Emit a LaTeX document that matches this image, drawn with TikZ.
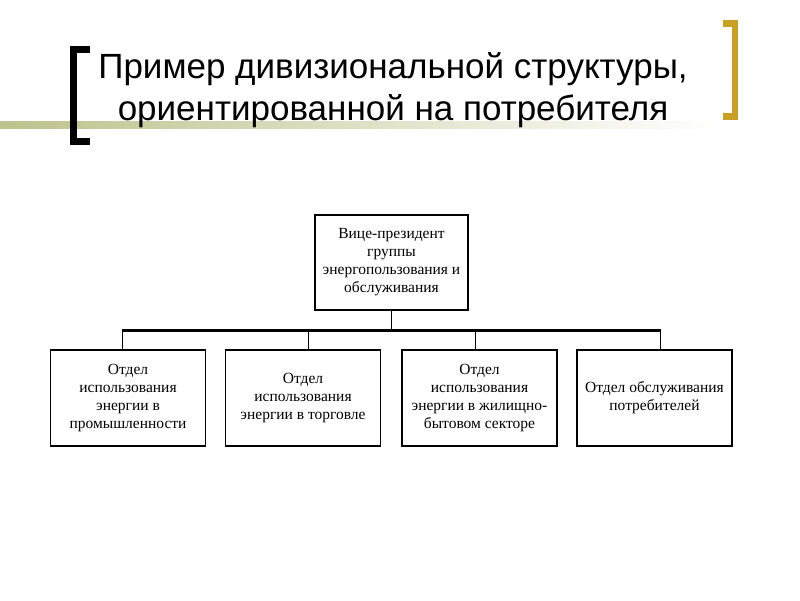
\documentclass[tikz,border=0pt]{standalone}
\usepackage{fontspec}
\setmainfont{Liberation Serif}
\newfontfamily\titlefont{Liberation Sans}
\usepackage{tikz}
\usetikzlibrary{calc, positioning}
\definecolor{olivebar}{RGB}{190, 194, 140}
\definecolor{goldbar}{RGB}{201, 160, 36}
\tikzset{
    boxnode/.style = {draw, rectangle, line width=1.1pt, minimum width=155pt, minimum height=96pt,
      inner sep=0pt, node distance=0em, align=center,
      font=\fontsize{15.5}{18}\selectfont},
    titlenode/.style = {draw=none, fill=none, rectangle, inner sep=0pt, anchor=base,
      font=\titlefont\fontsize{35}{42}\selectfont},
    connect/.style = {black, line width=1pt},
    barline/.style = {black, line width=3pt}
}

\begin{document}
\begin{tikzpicture}[x=1pt, y=-1pt]
    \useasboundingbox (0,0) rectangle (800,600);

    % title
    \shade [left color=olivebar, right color=white] (0,121) rectangle (720,128);
    \draw [line width=7pt, miter limit=10] (90,49) -- (73.5,49) -- (73.5,141.5) -- (90,141.5);
    \draw [goldbar, line width=6.5pt] (722.7,23.3) -- (735,23.3) -- (735,116.7) -- (722.7,116.7);
    \node [name=title1, titlenode] at (393,78) {Пример дивизиональной структуры,};
    \node [name=title2, titlenode] at (393,120) {ориентированной на потребителя};

    % boxes
    \node [name=vp, boxnode, minimum width=153pt, minimum height=95pt] at (391.5,262.5)
        {Вице-президент\\группы\\энергопользования и\\обслуживания};
    \node [name=ind, boxnode, below of = vp, xshift=-263.5pt, yshift=-135.5pt]
        {Отдел\\использования\\энергии в\\промышленности};
    \node [name=trade, boxnode, below of = vp, xshift=-88.5pt, yshift=-135.5pt]
        {Отдел\\использования\\энергии в торговле};
    \node [name=home, boxnode, below of = vp, xshift=88pt, yshift=-135.5pt]
        {Отдел\\использования\\энергии в жилищно-\\бытовом секторе};
    \node [name=service, boxnode, below of = vp, xshift=263pt, yshift=-135.5pt]
        {Отдел обслуживания\\потребителей};

    % connectors
    \coordinate (bar) at (391.5,330);
    \draw [connect] (vp.south) -- (vp.south |- bar);
    \draw [barline] ([xshift=-6pt]ind.north |- bar) -- ([xshift=6pt]service.north |- bar);
    \foreach \d/\s in {ind/-6, trade/5, home/-4, service/6}
        \draw [connect] ([xshift=\s pt]\d.north) -- ([xshift=\s pt]\d.north |- bar);
\end{tikzpicture}
\end{document}
